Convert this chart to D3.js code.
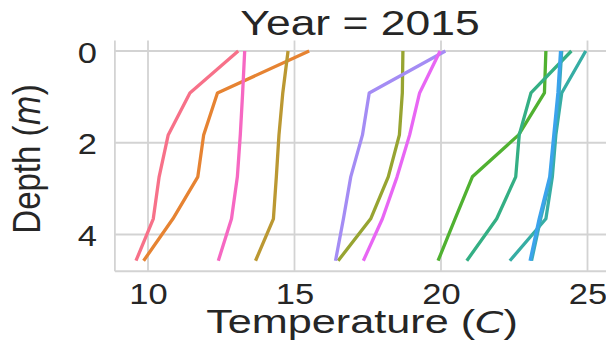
<!DOCTYPE html>
<html>
<head>
<meta charset="utf-8">
<script src="https://cdn.jsdelivr.net/npm/d3@7"></script>
<style>
  html, body { margin: 0; padding: 0; background: #fff; }
  svg { display: block; }
  text { font-family: "Liberation Sans", Arial, sans-serif; fill: #262626; }
</style>
</head>
<body>
<svg id="chart" width="606" height="356"></svg>
<script>
// Depth levels of each profile (m): 0, 3, 6, 9, 12, 15 ft
const depths = [0, 0.9144, 1.8288, 2.7432, 3.6576, 4.572];

// Monthly temperature profiles (°C), surface to bottom
const tempJan = [13.08, 11.43, 10.69, 10.38, 10.18, 9.59];
const tempFeb = [15.50, 12.37, 11.90, 11.70, 10.85, 9.85];
const tempMar = [14.78, 14.60, 14.47, 14.38, 14.28, 13.67];
const tempApr = [18.70, 18.68, 18.58, 18.20, 17.60, 16.49];
const tempMay = [23.58, 23.53, 22.65, 21.07, 20.48, 19.90];
const tempJun = [24.45, 23.07, 22.67, 22.55, 21.90, 20.88];
const tempJul = [24.94, 24.12, 23.92, 23.80, 23.58, 22.35];
const tempAug = [24.12, 24.03, 23.89, 23.75, 23.40, 23.09];
const tempSep = [24.08, 23.99, 23.85, 23.71, 23.35, 23.04];
const tempOct = [20.15, 17.55, 17.32, 16.92, 16.67, 16.40];
const tempNov = [19.97, 19.27, 18.93, 18.50, 18.00, 17.35];
const tempDec = [13.30, 13.23, 13.15, 13.05, 12.85, 12.40];

const months = ["Jan", "Feb", "Mar", "Apr", "May", "Jun", "Jul", "Aug", "Sep", "Oct", "Nov", "Dec"];
const profiles = [tempJan, tempFeb, tempMar, tempApr, tempMay, tempJun,
                  tempJul, tempAug, tempSep, tempOct, tempNov, tempDec];

const xTicks = [10, 15, 20, 25];
const yTicks = [0, 2, 4];
const title = "Year = 2015";

// HUSL (seaborn's husl_palette) colour generation
function huslPalette(n, h = 0.01, s = 0.9, l = 0.65) {
  const m = [[3.2406, -1.5372, -0.4986], [-0.9689, 1.8758, 0.0415], [0.0557, -0.2040, 1.0570]];
  const refY = 1.0, refU = 0.19784, refV = 0.46834, labK = 903.3;
  function maxChroma(L, H) {
    const hr = H * Math.PI / 180, sinH = Math.sin(hr), cosH = Math.cos(hr);
    const sub1 = Math.pow(L + 16, 3) / 1560896;
    const sub2 = sub1 > 0.008856 ? sub1 : L / 903.3;
    let res = Infinity;
    for (const [m1, m2, m3] of m) {
      const top = (0.99915 * m1 + 1.05122 * m2 + 1.14460 * m3) * sub2;
      const rb = 0.86330 * m3 - 0.17266 * m2;
      const lb = 0.12949 * m3 - 0.38848 * m1;
      const bottom = (rb * sinH + lb * cosH) * sub2;
      for (const t of [0, 1]) {
        const C = L * (top - 1.05122 * t) / (bottom + 0.17266 * sinH * t);
        if (C > 0 && C < res) res = C;
      }
    }
    return res;
  }
  const fromLinear = c => c <= 0.0031308 ? 12.92 * c : 1.055 * Math.pow(c, 1 / 2.4) - 0.055;
  function toRgb(H, S, L) {
    const C = maxChroma(L, H) / 100 * S;
    const hr = H * Math.PI / 180;
    const U = Math.cos(hr) * C, V = Math.sin(hr) * C;
    const varY = L > 8 ? refY * Math.pow((L + 16) / 116, 3) : refY * L / labK;
    const varU = U / (13 * L) + refU, varV = V / (13 * L) + refV;
    const Y = varY * refY;
    const X = -(9 * Y * varU) / ((varU - 4) * varV - varU * varV);
    const Z = (9 * Y - 15 * varV * Y - varV * X) / (3 * varV);
    const rgb = m.map(r => fromLinear(r[0] * X + r[1] * Y + r[2] * Z));
    return d3.rgb(...rgb.map(v => Math.round(Math.max(0, Math.min(1, v)) * 255))).formatHex();
  }
  const out = [];
  for (let i = 0; i < n; i++) {
    const hue = ((i / n + h) % 1) * 359;
    out.push(toRgb(hue, s * 99, l * 99));
  }
  return out;
}

const svg = d3.select("#chart");

const x = d3.scaleLinear().domain([10, 25]).range([148, 587.5]);
const y = d3.scaleLinear().domain([0, 4]).range([51, 234.5]);
const color = d3.scaleOrdinal().domain(months).range(huslPalette(months.length));

// Axes frame (data limits with margins)
const xLo = x(8.87), xHi = x(25.95);
const yTop = y(-0.2286), yBot = y(4.8006);

const grid = svg.append("g").attr("stroke", "#d3d3d3").attr("stroke-width", 1.8);
grid.selectAll(".gx").data(xTicks).join("line")
  .attr("x1", d => x(d)).attr("x2", d => x(d))
  .attr("y1", yTop).attr("y2", yBot);
grid.selectAll(".gy").data(yTicks).join("line")
  .attr("x1", xLo).attr("x2", xHi)
  .attr("y1", d => y(d)).attr("y2", d => y(d));

// left and bottom spines
svg.append("line").attr("x1", xLo).attr("x2", xLo).attr("y1", yTop).attr("y2", yBot)
  .attr("stroke", "#d3d3d3").attr("stroke-width", 1.8);
svg.append("line").attr("x1", xLo).attr("x2", xHi).attr("y1", yBot).attr("y2", yBot)
  .attr("stroke", "#d3d3d3").attr("stroke-width", 1.8);

// Profiles
const line = d3.line().x(d => x(d[0])).y(d => y(d[1]));
svg.append("g").selectAll("path").data(profiles).join("path")
  .attr("d", p => line(p.map((t, i) => [t, depths[i]])))
  .attr("fill", "none")
  .attr("stroke", (p, i) => color(months[i]))
  .attr("stroke-width", 3.3)
  .attr("stroke-linejoin", "round")
  .attr("stroke-linecap", "butt");

// Tick labels via d3 axes (tick marks hidden)
const xAxis = svg.append("g").attr("transform", `translate(0,${yBot})`)
  .call(d3.axisBottom(x).tickValues(xTicks).tickSize(0).tickPadding(0).tickFormat(d3.format("d")));
xAxis.select(".domain").remove();
xAxis.selectAll("text")
  .attr("y", 0).attr("dy", null)
  .attr("transform", "translate(0,33) scale(1.15,1)")
  .attr("font-size", 30).attr("fill", "#262626")
  .style("font-family", '"Liberation Sans", Arial, sans-serif');

const yAxis = svg.append("g").attr("transform", `translate(${xLo},0)`)
  .call(d3.axisLeft(y).tickValues(yTicks).tickSize(0).tickPadding(0).tickFormat(d3.format("d")));
yAxis.select(".domain").remove();
yAxis.selectAll("text")
  .attr("x", 0).attr("dy", null)
  .attr("transform", "translate(-18,11) scale(1.15,1)")
  .attr("font-size", 30).attr("fill", "#262626")
  .style("font-family", '"Liberation Sans", Arial, sans-serif');

// Title
svg.append("text")
  .attr("text-anchor", "middle")
  .attr("transform", "translate(360,34.5) scale(1.27,1)")
  .attr("font-size", 35)
  .text(title);

// Axis labels
const xl = svg.append("text")
  .attr("text-anchor", "middle")
  .attr("transform", "translate(362,333) scale(1.31,1)")
  .attr("font-size", 33);
xl.append("tspan").text("Temperature (");
xl.append("tspan").attr("font-style", "italic").style("font-family", '"DejaVu Sans", sans-serif').attr("font-size", 31).text("C");
xl.append("tspan").text(")");

const yl = svg.append("text")
  .attr("text-anchor", "middle")
  .attr("transform", "translate(40,159) scale(1.2,1) rotate(-90)")
  .attr("font-size", 33);
yl.append("tspan").text("Depth (");
yl.append("tspan").attr("font-style", "italic").style("font-family", '"DejaVu Sans", sans-serif').attr("font-size", 31).text("m");
yl.append("tspan").text(")");
</script>
</body>
</html>
